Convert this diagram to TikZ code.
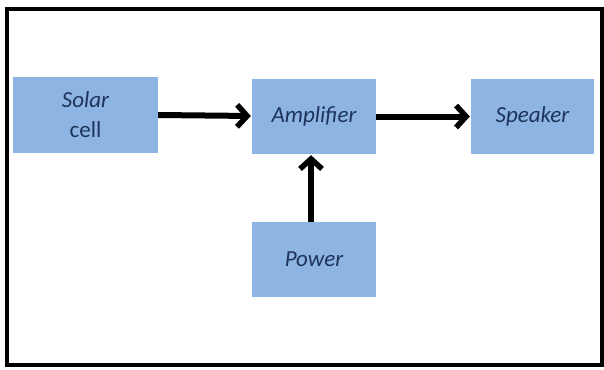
\documentclass[tikz,border=0pt]{standalone}
\usepackage{fontspec}
\setmainfont{Carlito}
\usetikzlibrary{arrows.meta}
\definecolor{boxfill}{RGB}{141,180,226}
\definecolor{boxtext}{RGB}{30,52,92}
\tikzset{
  blk/.style={fill=boxfill, draw=none, inner sep=0pt, minimum width=#1, align=center,
    font=\fontsize{23}{30}\selectfont\itshape, text=boxtext},
  blk/.default=124pt,
  conn/.style={line width=6pt, -{Straight Barb[length=10pt,width=22pt,line width=5.5pt]}, shorten >=1pt}
}
\begin{document}
\begin{tikzpicture}[x=1pt,y=-1pt]
\useasboundingbox (0,0) rectangle (604,369);
\draw[line width=3.5pt] (7,9) rectangle (602,365);
\node[blk=145pt, minimum height=76pt] (solar) at (85.5,114.5) {Solar\\\upshape cell};
\node[blk, minimum height=75pt] (amp) at (314,116.5) {Amplifier};
\node[blk=123pt, minimum height=75pt] (spk) at (532.5,116.5) {Speaker};
\node[blk, minimum height=75pt] (pow) at (314,259.5) {Power};
\draw[conn] (solar.east |- 0,115) -- (amp.west |- 0,116);
\draw[conn] (amp.east) -- (spk.west);
\draw[conn] (pow.north -| 311,0) -- (amp.south -| 311,0);
\end{tikzpicture}
\end{document}
